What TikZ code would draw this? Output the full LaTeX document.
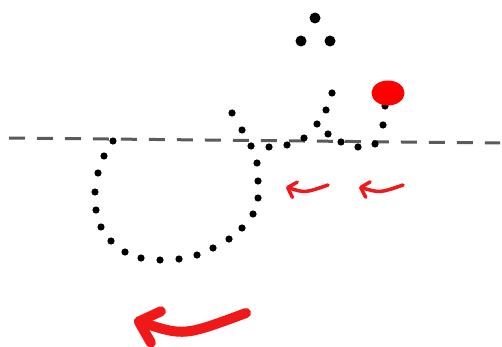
\documentclass[tikz,border=0pt]{standalone}
\usetikzlibrary{arrows.meta}
\definecolor{sheengray}{HTML}{5A5A5A}
\definecolor{sheenred}{HTML}{F01818}

\begin{document}
\begin{tikzpicture}[
    x=0.02cm, y=-0.02cm,
    baseline/.style={sheengray, line width=0.06cm, dash pattern=on 0.32cm off 0.24cm},
    smalldot/.style={fill=black},
    bigdot/.style={fill=black},
    startdot/.style={fill=red},
    flowarrow/.style={sheenred, line width=0.07cm, line cap=round,
      -{Straight Barb[round, length=0.15cm, width=0.32cm]}},
    bigarrow/.style={sheenred, line width=0.2cm, line cap=round,
      -{Straight Barb[round, length=0.36cm, width=0.66cm]}}
  ]
    \useasboundingbox (0,0) rectangle (502,347);

    % Baseline
    \coordinate (lineL) at (9,138);
    \coordinate (lineR) at (500,143);
    \draw[baseline] (lineL) -- (lineR);

    % Teeth and bowl, traced as dots
    \foreach \px/\py in {385/106, 383/125, 375/144, 358/147, 341/142, 328/134,
        332/93, 326/110, 317/124, 304/138, 287/145, 269/147, 251/146,
        232/113, 242/130,
        257/163, 258/181, 258/198, 253/214, 242/228, 229/239, 213/248,
        197/255, 179/259, 160/260, 141/258, 125/252, 111/241, 101/227,
        96/210, 95/192, 98/173, 104/156, 113/141}
      \fill[smalldot] (\px,\py) circle [radius=0.072cm];

    % Three dots above
    \foreach \px/\py in {315/18, 301/41, 330/41}
      \fill[bigdot] (\px,\py) circle [radius=0.11cm];

    % Start point
    \fill[startdot] (388,93) ellipse [x radius=0.33cm, y radius=0.25cm];

    % Direction arrows
    \coordinate (arrA1) at (328,185);
    \coordinate (arrA2) at (286,187);
    \coordinate (arrB1) at (403,185);
    \coordinate (arrB2) at (359,187);
    \coordinate (arrC1) at (246,313);
    \coordinate (arrC2) at (134,320);
    \draw[flowarrow] (arrA1) .. controls (305,193) .. (arrA2);
    \draw[flowarrow] (arrB1) .. controls (380,193) .. (arrB2);
    \draw[bigarrow] (arrC1) .. controls (184,336) .. (arrC2);
\end{tikzpicture}
\end{document}
